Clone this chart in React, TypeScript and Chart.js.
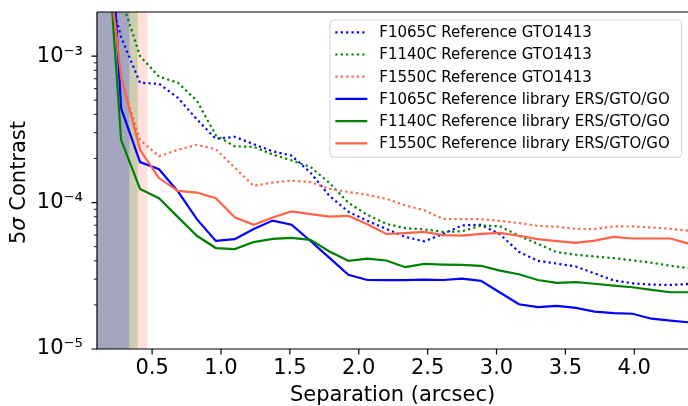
import React, { useEffect, useRef } from 'react';
import { Chart, registerables } from 'chart.js';

Chart.register(...registerables);

// Separation grid (arcsec)
const separation = [
  0.1375, 0.275, 0.4125, 0.55, 0.6875, 0.825, 0.9625, 1.1, 1.2375, 1.375, 1.5125, 1.65,
  1.7875, 1.925, 2.0625, 2.2, 2.3375, 2.475, 2.6125, 2.75, 2.8875, 3.025, 3.1625, 3.3,
  3.4375, 3.575, 3.7125, 3.85, 3.9875, 4.125, 4.2625, 4.4,
];

const f1065Gto = [
  4.0e-3, 1.35e-3, 6.57e-4, 6.47e-4, 5.19e-4, 3.7e-4, 2.72e-4, 2.81e-4, 2.5e-4, 2.24e-4, 2.09e-4, 1.6e-4,
  1.11e-4, 8.65e-5, 7.5e-5, 6.61e-5, 5.83e-5, 5.43e-5, 6.11e-5, 6.98e-5, 7.05e-5, 6.07e-5, 4.61e-5, 4.0e-5,
  3.83e-5, 3.66e-5, 3.28e-5, 2.94e-5, 2.81e-5, 2.75e-5, 2.74e-5, 2.78e-5,
];
const f1140Gto = [
  5.0e-3, 2.5e-3, 1.0e-3, 7.24e-4, 6.57e-4, 4.95e-4, 2.88e-4, 2.42e-4, 2.4e-4, 2.13e-4, 1.94e-4, 1.75e-4,
  1.36e-4, 9.96e-5, 8.24e-5, 7.16e-5, 6.68e-5, 6.56e-5, 6.31e-5, 6.36e-5, 6.97e-5, 6.88e-5, 5.93e-5, 5.22e-5,
  4.58e-5, 4.41e-5, 4.28e-5, 4.17e-5, 4.03e-5, 3.88e-5, 3.7e-5, 3.56e-5,
];
const f1550Gto = [
  1.0e-2, 6.9e-4, 2.68e-4, 2.07e-4, 2.29e-4, 2.48e-4, 2.31e-4, 1.73e-4, 1.3e-4, 1.37e-4, 1.41e-4, 1.38e-4,
  1.24e-4, 1.18e-4, 1.13e-4, 1.06e-4, 9.57e-5, 8.85e-5, 7.74e-5, 7.7e-5, 7.7e-5, 7.5e-5, 7.24e-5, 6.93e-5,
  6.84e-5, 6.61e-5, 6.58e-5, 6.87e-5, 6.86e-5, 6.76e-5, 6.61e-5, 6.41e-5,
];
const f1065Lib = [
  8.0e-2, 4.41e-4, 1.89e-4, 1.69e-4, 1.19e-4, 7.7e-5, 5.47e-5, 5.62e-5, 6.6e-5, 7.53e-5, 7.05e-5, 5.46e-5,
  4.19e-5, 3.21e-5, 2.96e-5, 2.95e-5, 2.95e-5, 2.98e-5, 2.96e-5, 3.02e-5, 2.92e-5, 2.43e-5, 2.02e-5, 1.93e-5,
  1.97e-5, 1.91e-5, 1.8e-5, 1.76e-5, 1.74e-5, 1.61e-5, 1.56e-5, 1.52e-5,
];
const f1140Lib = [
  2.0e-2, 2.68e-4, 1.24e-4, 1.07e-4, 7.95e-5, 5.93e-5, 4.89e-5, 4.81e-5, 5.37e-5, 5.65e-5, 5.74e-5, 5.56e-5,
  4.63e-5, 4.0e-5, 4.14e-5, 4.02e-5, 3.62e-5, 3.81e-5, 3.77e-5, 3.75e-5, 3.7e-5, 3.43e-5, 3.24e-5, 2.96e-5,
  2.83e-5, 2.86e-5, 2.79e-5, 2.71e-5, 2.64e-5, 2.53e-5, 2.44e-5, 2.44e-5,
];
const f1550Lib = [
  1.0e-2, 7.22e-4, 2.29e-4, 1.47e-4, 1.2e-4, 1.17e-4, 1.07e-4, 7.94e-5, 7.05e-5, 7.9e-5, 8.69e-5, 8.34e-5,
  8.02e-5, 8.11e-5, 7.11e-5, 6.1e-5, 6.18e-5, 6.31e-5, 5.99e-5, 5.95e-5, 6.11e-5, 6.21e-5, 5.93e-5, 5.62e-5,
  5.45e-5, 5.3e-5, 5.5e-5, 5.83e-5, 5.68e-5, 5.68e-5, 5.68e-5, 5.22e-5,
];

const seriesLabels = [
  'F1065C Reference GTO1413',
  'F1140C Reference GTO1413',
  'F1550C Reference GTO1413',
  'F1065C Reference library ERS/GTO/GO',
  'F1140C Reference library ERS/GTO/GO',
  'F1550C Reference library ERS/GTO/GO',
];
const seriesValues = [f1065Gto, f1140Gto, f1550Gto, f1065Lib, f1140Lib, f1550Lib];
const seriesColors = ['#0000ff', '#008000', '#ff6347', '#0000ff', '#008000', '#ff6347'];
const seriesDotted = [true, true, true, false, false, false];

// Inner working angles (arcsec) for shaded regions: F1065C, F1140C, F1550C
const iwaValues = [0.335, 0.396, 0.466];
const iwaColors = ['rgba(0,0,255,0.2)', 'rgba(0,128,0,0.2)', 'rgba(255,99,71,0.2)'];

const xTickValues = [0.5, 1.0, 1.5, 2.0, 2.5, 3.0, 3.5, 4.0];
const yMajorTicks = [1e-5, 1e-4, 1e-3];
const yMinorTicks = [
  2e-5, 3e-5, 4e-5, 5e-5, 6e-5, 7e-5, 8e-5, 9e-5,
  2e-4, 3e-4, 4e-4, 5e-4, 6e-4, 7e-4, 8e-4, 9e-4,
];

const xTitle = 'Separation (arcsec)';
const FONT = "'DejaVu Sans'";
const LW = 2.2;
const DOT = [2.2, 3.2];

const supMap: Record<string, string> = {
  '-': '\u207B', '0': '\u2070', '1': '\u00B9', '2': '\u00B2', '3': '\u00B3',
  '4': '\u2074', '5': '\u2075', '6': '\u2076', '7': '\u2077', '8': '\u2078', '9': '\u2079',
};
const toSup = (n: number) => String(n).split('').map((c) => supMap[c] || c).join('');
const isMajor = (v: number) => yMajorTicks.some((m) => Math.abs(m - v) / m < 1e-6);

const decorPlugin = {
  id: 'decor',
  beforeDatasetsDraw(chart: any) {
    const { ctx, chartArea: a, scales } = chart;
    const x = scales.x;
    ctx.save();
    ctx.beginPath();
    ctx.rect(a.left, a.top, a.right - a.left, a.bottom - a.top);
    ctx.clip();
    for (const i of [2, 1, 0]) {
      const x1 = x.getPixelForValue(iwaValues[i]);
      ctx.fillStyle = iwaColors[i];
      ctx.fillRect(a.left, a.top, x1 - a.left, a.bottom - a.top);
    }
    ctx.restore();
  },
  afterDatasetsDraw(chart: any) {
    const { ctx, chartArea: a, scales } = chart;
    const x = scales.x;
    const y = scales.y;
    ctx.save();
    // spines
    ctx.strokeStyle = '#000';
    ctx.lineWidth = 1.2;
    ctx.beginPath();
    ctx.moveTo(a.left, a.top);
    ctx.lineTo(a.right + 2, a.top);
    ctx.moveTo(a.left, a.top);
    ctx.lineTo(a.left, a.bottom);
    ctx.lineTo(a.right + 2, a.bottom);
    ctx.stroke();
    // ticks
    ctx.beginPath();
    for (const v of xTickValues) {
      const px = x.getPixelForValue(v);
      ctx.moveTo(px, a.bottom);
      ctx.lineTo(px, a.bottom + 5.5);
    }
    for (const v of yMajorTicks) {
      const py = y.getPixelForValue(v);
      ctx.moveTo(a.left, py);
      ctx.lineTo(a.left - 5.5, py);
    }
    ctx.stroke();
    ctx.lineWidth = 0.9;
    ctx.beginPath();
    for (const v of yMinorTicks) {
      const py = y.getPixelForValue(v);
      ctx.moveTo(a.left, py);
      ctx.lineTo(a.left - 3.2, py);
    }
    ctx.stroke();

    // axis titles
    ctx.fillStyle = '#000';
    ctx.font = `21px ${FONT}`;
    ctx.textAlign = 'center';
    ctx.textBaseline = 'alphabetic';
    ctx.fillText(xTitle, (a.left + a.right) / 2, 401);

    const cy = (a.top + a.bottom) / 2 + 2;
    ctx.translate(25, cy);
    ctx.rotate(-Math.PI / 2);
    ctx.textAlign = 'left';
    const pieces = [
      { t: '5', f: `21px ${FONT}` },
      { t: '\u03C3', f: `italic 21px ${FONT}` },
      { t: ' Contrast', f: `21px ${FONT}` },
    ];
    let total = 0;
    for (const p of pieces) { ctx.font = p.f; total += ctx.measureText(p.t).width; }
    let cx = -total / 2;
    for (const p of pieces) {
      ctx.font = p.f;
      ctx.fillText(p.t, cx, 0);
      cx += ctx.measureText(p.t).width;
    }
    ctx.restore();

    // legend
    ctx.save();
    ctx.font = `15px ${FONT}`;
    let W = 0;
    for (const l of seriesLabels) W = Math.max(W, ctx.measureText(l).width);
    const boxRight = a.right - 6.3;
    const boxTop = a.top + 8;
    const boxLeft = boxRight - (49.3 + W + 12);
    const boxH = 137.3;
    ctx.beginPath();
    if ((ctx as any).roundRect) (ctx as any).roundRect(boxLeft, boxTop, boxRight - boxLeft, boxH, 4);
    else ctx.rect(boxLeft, boxTop, boxRight - boxLeft, boxH);
    ctx.fillStyle = 'rgba(255,255,255,0.8)';
    ctx.fill();
    ctx.strokeStyle = 'rgba(204,204,204,0.9)';
    ctx.lineWidth = 1;
    ctx.stroke();
    ctx.textAlign = 'left';
    ctx.textBaseline = 'middle';
    for (let i = 0; i < seriesLabels.length; i++) {
      const ry = boxTop + 12.3 + i * 22.2;
      ctx.beginPath();
      ctx.strokeStyle = seriesColors[i];
      ctx.lineWidth = LW;
      ctx.setLineDash(seriesDotted[i] ? DOT : []);
      ctx.moveTo(boxLeft + 5.3, ry);
      ctx.lineTo(boxLeft + 37.3, ry);
      ctx.stroke();
      ctx.setLineDash([]);
      ctx.fillStyle = '#000';
      ctx.fillText(seriesLabels[i], boxLeft + 49.3, ry + 1);
    }
    ctx.restore();
  },
};

export default function App() {
  const ref = useRef<HTMLCanvasElement | null>(null);
  useEffect(() => {
    if (!ref.current) return;
    const datasets = seriesValues.map((vals, i) => ({
      label: seriesLabels[i],
      data: vals.map((v, k) => ({ x: separation[k], y: v })),
      borderColor: seriesColors[i],
      backgroundColor: seriesColors[i],
      borderWidth: LW,
      borderDash: seriesDotted[i] ? DOT : [],
      pointRadius: 0,
      tension: 0,
      fill: false,
      order: 10 - i,
    }));
    const chart = new Chart(ref.current, {
      type: 'line',
      data: { datasets },
      options: {
        responsive: false,
        animation: false,
        devicePixelRatio: 1,
        layout: { padding: { top: 12, right: 0, left: 0, bottom: 0 } },
        font: { family: FONT },
        plugins: {
          legend: { display: false },
          tooltip: { enabled: false },
          title: { display: false },
        },
        scales: {
          x: {
            type: 'linear',
            min: 0.1,
            max: 4.39,
            grid: { display: false, drawTicks: false },
            border: { display: false },
            ticks: {
              font: { family: FONT, size: 21 },
              color: '#000',
              padding: 7,
              maxRotation: 0,
              autoSkip: false,
              callback: (v: any) => Number(v).toFixed(1),
            },
            afterBuildTicks: (s: any) => {
              s.ticks = xTickValues.map((v) => ({ value: v }));
            },
            afterFit: (s: any) => {
              s.height = 57;
              s.paddingLeft = 0;
              s.paddingRight = 0;
            },
          },
          y: {
            type: 'logarithmic',
            min: 1e-5,
            max: 2e-3,
            grid: { display: false, drawTicks: false },
            border: { display: false },
            ticks: {
              font: { family: FONT, size: 21 },
              color: '#000',
              padding: 14,
              autoSkip: false,
              callback: (v: any) => (isMajor(Number(v)) ? '10' + toSup(Math.round(Math.log10(Number(v)))) : ''),
            },
            afterBuildTicks: (s: any) => {
              s.ticks = [...yMajorTicks, ...yMinorTicks].sort((p, q) => p - q).map((v) => ({ value: v, major: isMajor(v) }));
            },
            afterFit: (s: any) => {
              s.width = 97;
              s.paddingTop = 0;
              s.paddingBottom = 0;
            },
          },
        },
      } as any,
      plugins: [decorPlugin],
    });
    return () => chart.destroy();
  }, []);
  return (
    <div style={{ position: 'fixed', left: 0, top: 0, width: 688, height: 406, background: '#fff' }}>
      <canvas ref={ref} width={688} height={406} style={{ display: 'block' }} />
    </div>
  );
}
